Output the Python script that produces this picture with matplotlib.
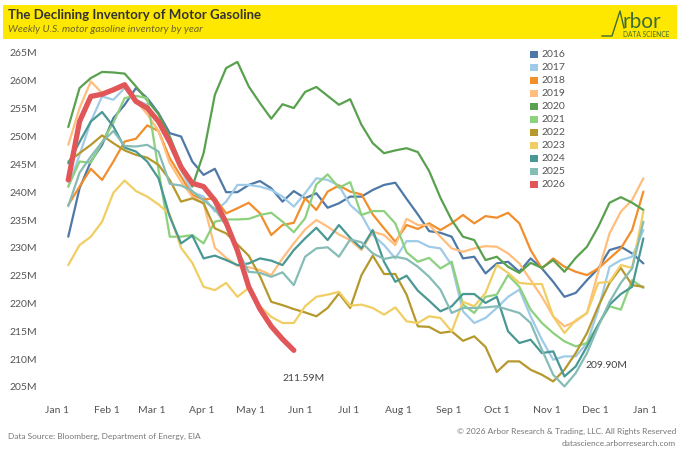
import numpy as np
import matplotlib
matplotlib.use("Agg")
import matplotlib.pyplot as plt
from matplotlib.patches import Rectangle
from matplotlib.lines import Line2D

plt.rcParams['font.family'] = ['Lato', 'DejaVu Sans']

W, H = 680, 453

# weekly readings (million barrels), first week ~ Jan 7
years = ['2016', '2017', '2018', '2019', '2020', '2021', '2022', '2023', '2024', '2025', '2026']
colors = ['#4e79a7', '#a0cbe8', '#f28e2b', '#ffbe7d', '#59a14f', '#8cd17d',
          '#b6992d', '#f1ce63', '#499894', '#86bcb6', '#e15759']

inv_2016 = [232, 240.7, 245.5, 248.5, 253.3, 255.7, 258.7, 256.9, 254.2, 250.6, 250, 245.5, 243.1,
            244.2, 240, 240, 241.3, 242, 240.7, 238.3, 240.2, 238.9, 239.8, 237.2, 238, 239.2,
            239.2, 240.4, 241.3, 241.7, 238.8, 236, 233, 232.7, 232, 228.1, 228.4, 225.4, 227.2,
            227.5, 225.7, 228.1, 226.3, 223.9, 221.2, 221.9, 224.2, 226.3, 229.6, 230.2, 229, 227.2]
inv_2017 = [241, 246.7, 252.7, 257.2, 256.6, 258.7, 256.6, 255.7, 252.5, 248.5, 244, 240, 239.2,
            236.5, 238.3, 241.3, 241.3, 241, 240.4, 239.2, 237.4, 239.8, 242.5, 242.2, 241.2, 237.7,
            235.9, 232.3, 230.5, 228.1, 231.2, 231.2, 230.2, 229.9, 226.9, 218.6, 216.5, 217.4, 219.2,
            221.2, 222.5, 217.7, 213.5, 209.9, 210.5, 210.5, 212.9, 218.9, 226.6, 227.8, 228.4, 233.2]
inv_2018 = [237.7, 241, 244.2, 242.2, 245.5, 249.1, 249.6, 252, 251, 246.1, 242.8, 239.5, 238.7,
            238.9, 236.2, 237.1, 238.1, 236.2, 232.3, 234.1, 234.5, 238.9, 236.8, 240.1, 241.2, 240.1,
            239.6, 236, 233.5, 231.1, 234.1, 233.4, 234.4, 233.2, 234.4, 235.9, 234.4, 235.7, 235.4,
            236.3, 234.4, 229.6, 226.3, 228.1, 226.6, 225.7, 225.1, 226.3, 228.1, 229.9, 233.2, 240.1]
inv_2019 = [248.5, 255.1, 259.9, 257.8, 258.1, 259, 256.5, 254, 251, 245.2, 241.9, 239.2, 238,
            230, 228.2, 226.8, 226.5, 226, 225.1, 228.1, 230.8, 233.3, 235, 233.8, 232.4, 231.4,
            229.6, 232.9, 232.3, 230.5, 235.2, 234.1, 234.1, 232, 229.9, 229.3, 229.9, 230.3, 230.2,
            229, 227.2, 224.2, 221.2, 217.7, 215.9, 216.8, 218.3, 225.7, 232.6, 236.5, 238.6, 242.5]
inv_2020 = [251.7, 258.7, 260.5, 261.6, 261.5, 261.3, 259, 256.5, 254, 250, 245, 241, 247,
            257.5, 262.3, 263.4, 259, 256, 253.2, 255.8, 255.1, 258, 258.9, 257.3, 255.7, 256.7,
            252.1, 248.8, 247, 247.5, 247.9, 247.2, 243.8, 239, 235, 232, 231.4, 227.8, 228.4,
            226.6, 225.5, 227.3, 226.4, 227.8, 225.7, 228.2, 230.2, 233.8, 238.1, 239.1, 238.1, 236.8]
inv_2021 = [241, 245.5, 245.3, 249, 252.5, 256.9, 257.3, 256.9, 244, 232, 232, 232.3, 230.8,
            234.7, 235.1, 235.1, 235.2, 235.9, 236.3, 234.7, 232.8, 235.3, 241.4, 243.2, 240.8, 241.8,
            235.9, 236.6, 236.6, 234.4, 229.2, 227.5, 228.2, 226.3, 227.5, 219.8, 218.3, 221.2, 221.6,
            225.1, 223, 218.9, 216.5, 214.7, 213.2, 212.3, 212.9, 216.2, 219.5, 218.9, 224.2, 222.8]
inv_2022 = [245.5, 247, 248.5, 250.2, 248.8, 247.5, 246.7, 246.2, 244.9, 242.2, 238.3, 238.9, 238,
            233.5, 232.6, 230.6, 228.6, 224.9, 220.3, 219.7, 219, 218.4, 217.7, 219.2, 221.8, 219.2,
            225.1, 228.6, 225.3, 225.3, 221.6, 215.9, 215.8, 214.7, 215, 213.3, 214.1, 212.2, 207.7,
            209.6, 209.6, 208.1, 207.2, 206, 208.1, 211.1, 214.7, 219.5, 223.7, 226.4, 223.3, 223]
inv_2023 = [226.9, 230.5, 232, 234.7, 239.9, 242.1, 240.2, 239.2, 237.8, 236, 230, 227.3, 223,
            222.4, 223.7, 221.2, 222.8, 219.5, 217.6, 216.5, 216.5, 219.5, 221.2, 221.6, 222.1, 219.6,
            219.8, 219.2, 218, 219.3, 216.8, 216.5, 217.7, 217.4, 215, 220.3, 219.5, 221.9, 226.9,
            225.5, 223.7, 223.5, 223.5, 217.7, 214.7, 217, 218.3, 223.7, 223.9, 226.9, 226.4, 236.5]
inv_2024 = [245.2, 249, 252.7, 254.4, 251.8, 248, 247.3, 245.5, 242.5, 235.6, 230.8, 232.2, 228.1,
            228.6, 227.8, 226.9, 227.2, 228.1, 227.7, 226.9, 229.6, 231.7, 233.6, 231.4, 234.1, 231.8,
            229.9, 233.2, 227.5, 223.9, 225, 222.3, 220.5, 218.6, 219.5, 221.7, 221.7, 220.1, 221.2,
            215, 212.9, 213.5, 211.1, 211.4, 206.9, 208.7, 212.3, 216.2, 219.8, 221.7, 223, 231.7]
inv_2025 = [237.5, 243.5, 246.4, 249, 251, 248.3, 248.2, 248.5, 247.3, 241.5, 241.2, 240.2, 238.5,
            237, 234, 229.6, 225.7, 225.5, 224.8, 225.6, 223.3, 228.4, 229.9, 230.1, 228.4, 231.5,
            231, 229, 228, 228.4, 228, 226.6, 224.8, 222.5, 218.3, 219.2, 219.2, 219.3, 219.5,
            218.9, 218.3, 216.5, 211.7, 207.2, 205.1, 207.5, 211.1, 215.9, 220.3, 223.7, 226.3, 234.7]
inv_2026 = [242.2, 252.7, 257.2, 257.6, 258.4, 259.3, 256.3, 255.1, 252.7, 249, 244.5, 241.6, 241,
            238.5, 234.5, 229.5, 223, 219, 215.9, 213.6, 211.59]

series = [inv_2016, inv_2017, inv_2018, inv_2019, inv_2020, inv_2021,
          inv_2022, inv_2023, inv_2024, inv_2025, inv_2026]

month_days = [0, 31, 59, 90, 120, 151, 181, 212, 243, 273, 304, 334, 365]
month_labels = ['Jan 1', 'Feb 1', 'Mar 1', 'Apr 1', 'May 1', 'Jun 1', 'Jul 1',
                'Aug 1', 'Sep 1', 'Oct 1', 'Nov 1', 'Dec 1', 'Jan 1']
y_ticks = list(range(205, 270, 5))
end_label_2026 = '211.59M'
min_label = '209.90M'
min_label_pos = (341, 208.8)


def fx(px):
    return px / W


def fy(py):
    return 1 - py / H


fig = plt.figure(figsize=(6.8, 4.53), dpi=100)

# yellow header
fig.add_artist(Rectangle((fx(3), fy(39)), fx(674), 34 / H, color='#ffe800', lw=0,
                         transform=fig.transFigure))
fig.text(fx(8), fy(15), 'The Declining Inventory of Motor Gasoline', fontsize=9.5,
         fontweight='bold', color='#333333', va='center')
fig.text(fx(8), fy(29), 'Weekly U.S. motor gasoline inventory by year', fontsize=7.5,
         style='italic', color='#6b6526', va='center')
# logo
logo_c = '#3f6b36'
fig.add_artist(Line2D([fx(602), fx(612), fx(620), fx(624)], [fy(36), fy(36), fy(11), fy(28)],
                      color=logo_c, lw=1.0, transform=fig.transFigure))
fig.text(fx(623), fy(28), 'rbor', fontsize=15, color=logo_c, va='baseline', ha='left')
fig.text(fx(669), fy(34.5), 'DATA SCIENCE', fontsize=4.8, color=logo_c, va='center', ha='right')

ax = fig.add_axes([fx(57), fy(387), (645 - 57) / W, (387 - 53) / H])
days = 7 + 7 * np.arange(52)
for yr, col, vals in zip(years, colors, series):
    n = len(vals)
    lw = 3.8 if yr == '2026' else 1.6
    ax.plot(days[:n], vals, color=col, lw=lw, solid_joinstyle='round', solid_capstyle='round',
            zorder=5 if yr == '2026' else 2, clip_on=False)

ax.annotate(end_label_2026, (days[len(inv_2026) - 1], inv_2026[-1]), xytext=(-8, -20),
            textcoords='offset points', fontsize=7.5, color='#444444', ha='left', va='center')
ax.text(min_label_pos[0], min_label_pos[1], min_label, fontsize=7.5, color='#444444',
        ha='center', va='center')

ax.set_xlim(0, 365)
ax.set_ylim(205, 265)
ax.set_xticks(month_days)
ax.set_xticklabels(month_labels)
ax.set_yticks(y_ticks)
ax.set_yticklabels([f'{v}M' for v in y_ticks])
ax.tick_params(axis='y', length=0, pad=14.5, labelsize=7.5, labelcolor='#555555')
ax.tick_params(axis='x', length=0, pad=14, labelsize=7.5, labelcolor='#555555')
for s in ax.spines.values():
    s.set_visible(False)
ax.set_facecolor('none')

# legend
for i, (yr, col) in enumerate(zip(years, colors)):
    yc = 54.6 + 13 * i
    fig.add_artist(Rectangle((fx(530), fy(yc + 3.8)), 7.5 / W, 7.5 / H, color=col, lw=0,
                             transform=fig.transFigure))
    fig.text(fx(541), fy(yc), yr, fontsize=7.5, color='#555555', va='center')

fig.text(fx(8), fy(436), 'Data Source: Bloomberg, Department of Energy, EIA', fontsize=6,
         color='#777777', va='center')
fig.text(fx(676), fy(431), '\u00a9 2026 Arbor Research & Trading, LLC. All Rights Reserved',
         fontsize=6, color='#777777', va='center', ha='right')
fig.text(fx(676), fy(443), 'datascience.arborresearch.com', fontsize=6, color='#777777',
         va='center', ha='right')

fig.savefig('out.png', dpi=100)
